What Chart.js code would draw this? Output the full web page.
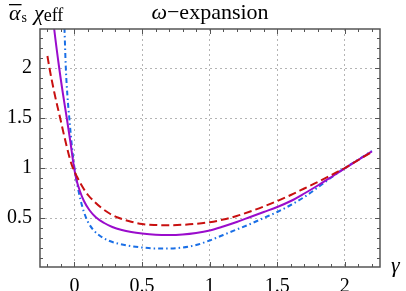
<!DOCTYPE html>
<html>
<head>
<meta charset="utf-8">
<script src="https://cdn.jsdelivr.net/npm/chart.js@4.4.0/dist/chart.umd.min.js"></script>
<style>
html, body { margin: 0; padding: 0; background: #fff; }
#wrap { width: 406px; height: 291px; }
</style>
</head>
<body>
<div id="wrap"><canvas id="canvas"></canvas></div>
<script>
// values
const gammaPurple = [-0.16, -0.15, -0.113, -0.085, -0.057, -0.03, -0.005, 0.015, 0.04, 0.07, 0.11, 0.16, 0.22, 0.28, 0.35, 0.42, 0.5, 0.6, 0.7, 0.8, 0.9, 1.0, 1.1, 1.2, 1.3, 1.4, 1.5, 1.6, 1.7, 1.8, 1.9, 2.0, 2.1, 2.2];
const purpleVals  = [2.52, 2.39, 2.0, 1.74, 1.5, 1.26, 1.02, 0.88, 0.77, 0.67, 0.58, 0.505, 0.45, 0.41, 0.38, 0.36, 0.345, 0.333, 0.33, 0.335, 0.35, 0.375, 0.415, 0.46, 0.51, 0.56, 0.61, 0.67, 0.745, 0.825, 0.91, 0.997, 1.082, 1.167];

const gammaRed = [-0.2, -0.185, -0.15, -0.106, -0.06, -0.02, 0.02, 0.06, 0.1, 0.15, 0.2, 0.26, 0.32, 0.4, 0.5, 0.6, 0.7, 0.8, 0.9, 1.0, 1.1, 1.2, 1.3, 1.4, 1.5, 1.6, 1.7, 1.8, 1.9, 2.0, 2.1, 2.2];
const redVals  = [2.12, 2.0, 1.76, 1.5, 1.23, 1.03, 0.91, 0.81, 0.73, 0.66, 0.60, 0.545, 0.505, 0.47, 0.44, 0.43, 0.428, 0.432, 0.442, 0.458, 0.484, 0.52, 0.565, 0.615, 0.67, 0.73, 0.795, 0.86, 0.93, 1.0, 1.08, 1.16];

const gammaBlue = [-0.08, -0.074, -0.064, -0.052, -0.037, -0.02, 0.0, 0.02, 0.045, 0.07, 0.1, 0.14, 0.18, 0.25, 0.32, 0.4, 0.5, 0.6, 0.7, 0.8, 0.9, 1.0, 1.1, 1.2, 1.3, 1.4, 1.5, 1.6, 1.7, 1.8, 1.9, 2.0, 2.1, 2.2];
const blueVals  = [2.65, 2.4, 2.0, 1.72, 1.48, 1.23, 1.0, 0.84, 0.68, 0.56, 0.46, 0.38, 0.33, 0.275, 0.245, 0.222, 0.205, 0.195, 0.195, 0.205, 0.23, 0.275, 0.33, 0.385, 0.44, 0.5, 0.56, 0.63, 0.71, 0.805, 0.905, 1.0, 1.085, 1.17];

const xTicks = [0, 0.5, 1, 1.5, 2];
const yTicks = [0.5, 1, 1.5, 2];

const serif = '"Liberation Serif", "Times New Roman", serif';

function pts(xs, ys) {
  return xs.map((x, i) => ({ x: x, y: ys[i] }));
}

// frame, inward ticks and the labels
const decor = {
  id: 'decor',
  afterDraw(chart) {
    const c = chart.ctx;
    const a = chart.chartArea;
    const sx = chart.scales.x, sy = chart.scales.y;
    c.save();
    c.strokeStyle = '#555';
    c.lineWidth = 1;
    // ticks
    for (let v = -0.2; v <= 2.21; v += 0.1) {
      const px = Math.round(sx.getPixelForValue(v)) + 0.5;
      const major = Math.abs(v * 2 - Math.round(v * 2)) < 1e-6;
      const len = major ? 5 : 3;
      c.beginPath();
      c.moveTo(px, a.bottom); c.lineTo(px, a.bottom - len);
      c.moveTo(px, a.top); c.lineTo(px, a.top + len);
      c.stroke();
    }
    for (let v = 0.1; v <= 2.31; v += 0.1) {
      const py = Math.round(sy.getPixelForValue(v)) + 0.5;
      const major = Math.abs(v * 2 - Math.round(v * 2)) < 1e-6;
      const len = major ? 5 : 3;
      c.beginPath();
      c.moveTo(a.left, py); c.lineTo(a.left + len, py);
      c.moveTo(a.right, py); c.lineTo(a.right - len, py);
      c.stroke();
    }
    c.lineWidth = 1.5;
    c.strokeRect(a.left, a.top, a.right - a.left, a.bottom - a.top);

    c.fillStyle = '#000';
    c.textBaseline = 'alphabetic';
    c.textAlign = 'left';
    // title
    c.font = 'italic 22px ' + serif;
    const w1 = c.measureText('ω').width;
    c.font = '22px ' + serif;
    const w2 = c.measureText('−expansion').width;
    let tx = 210 - (w1 + w2) / 2;
    c.font = 'italic 22px ' + serif;
    c.fillText('ω', tx, 19);
    c.font = '22px ' + serif;
    c.fillText('−expansion', tx + w1, 19);

    // y label
    c.font = 'italic 22px ' + serif;
    c.fillText('α', 9, 20);
    const wa = c.measureText('α').width;
    c.fillRect(9, 4, wa + 1, 1.3);
    c.font = '14px ' + serif;
    c.fillText('s', 10 + wa, 22);
    c.font = 'italic 22px ' + serif;
    c.fillText('χ', 34, 20);
    const wc = c.measureText('χ').width;
    c.font = '18px ' + serif;
    c.fillText('eff', 34 + wc, 21);

    // x label
    c.font = 'italic 22px ' + serif;
    c.fillText('γ', 391, 272);
    c.restore();
  }
};

new Chart(document.getElementById('canvas'), {
  type: 'line',
  data: {
    datasets: [
      {
        data: pts(gammaRed, redVals),
        borderColor: '#c81010',
        borderWidth: 2,
        borderDash: [8, 4],
        pointRadius: 0,
        cubicInterpolationMode: 'monotone',
        fill: false
      },
      {
        data: pts(gammaPurple, purpleVals),
        borderColor: '#9a0ccc',
        borderWidth: 2,
        pointRadius: 0,
        cubicInterpolationMode: 'monotone',
        fill: false
      },
      {
        data: pts(gammaBlue, blueVals),
        borderColor: '#1a6fe6',
        borderWidth: 2,
        borderDash: [5, 3, 1.5, 3],
        pointRadius: 0,
        cubicInterpolationMode: 'monotone',
        fill: false
      }
    ]
  },
  options: {
    responsive: true,
    maintainAspectRatio: false,
    animation: false,
    devicePixelRatio: 1,
    layout: { padding: { left: 0, right: 26, top: 29, bottom: 0 } },
    plugins: { legend: { display: false }, tooltip: { enabled: false } },
    scales: {
      x: {
        type: 'linear',
        min: -0.255,
        max: 2.26,
        afterFit(s) { s.height = 24; },
        afterBuildTicks(s) { s.ticks = xTicks.map(v => ({ value: v })); },
        grid: { color: '#b4b4b4', drawTicks: false, lineWidth: 1 },
        border: { display: false, dash: [2, 3] },
        ticks: { color: '#000', padding: 8, maxRotation: 0, font: { family: serif, size: 20 }, callback: v => String(v) }
      },
      y: {
        type: 'linear',
        min: 0.01,
        max: 2.39,
        afterFit(s) { s.width = 40; },
        afterBuildTicks(s) { s.ticks = yTicks.map(v => ({ value: v })); },
        grid: { color: '#b4b4b4', drawTicks: false, lineWidth: 1 },
        border: { display: false, dash: [2, 3] },
        ticks: { color: '#000', padding: 8, font: { family: serif, size: 20 }, callback: v => String(v) }
      }
    }
  },
  plugins: [decor]
});
</script>
</body>
</html>
